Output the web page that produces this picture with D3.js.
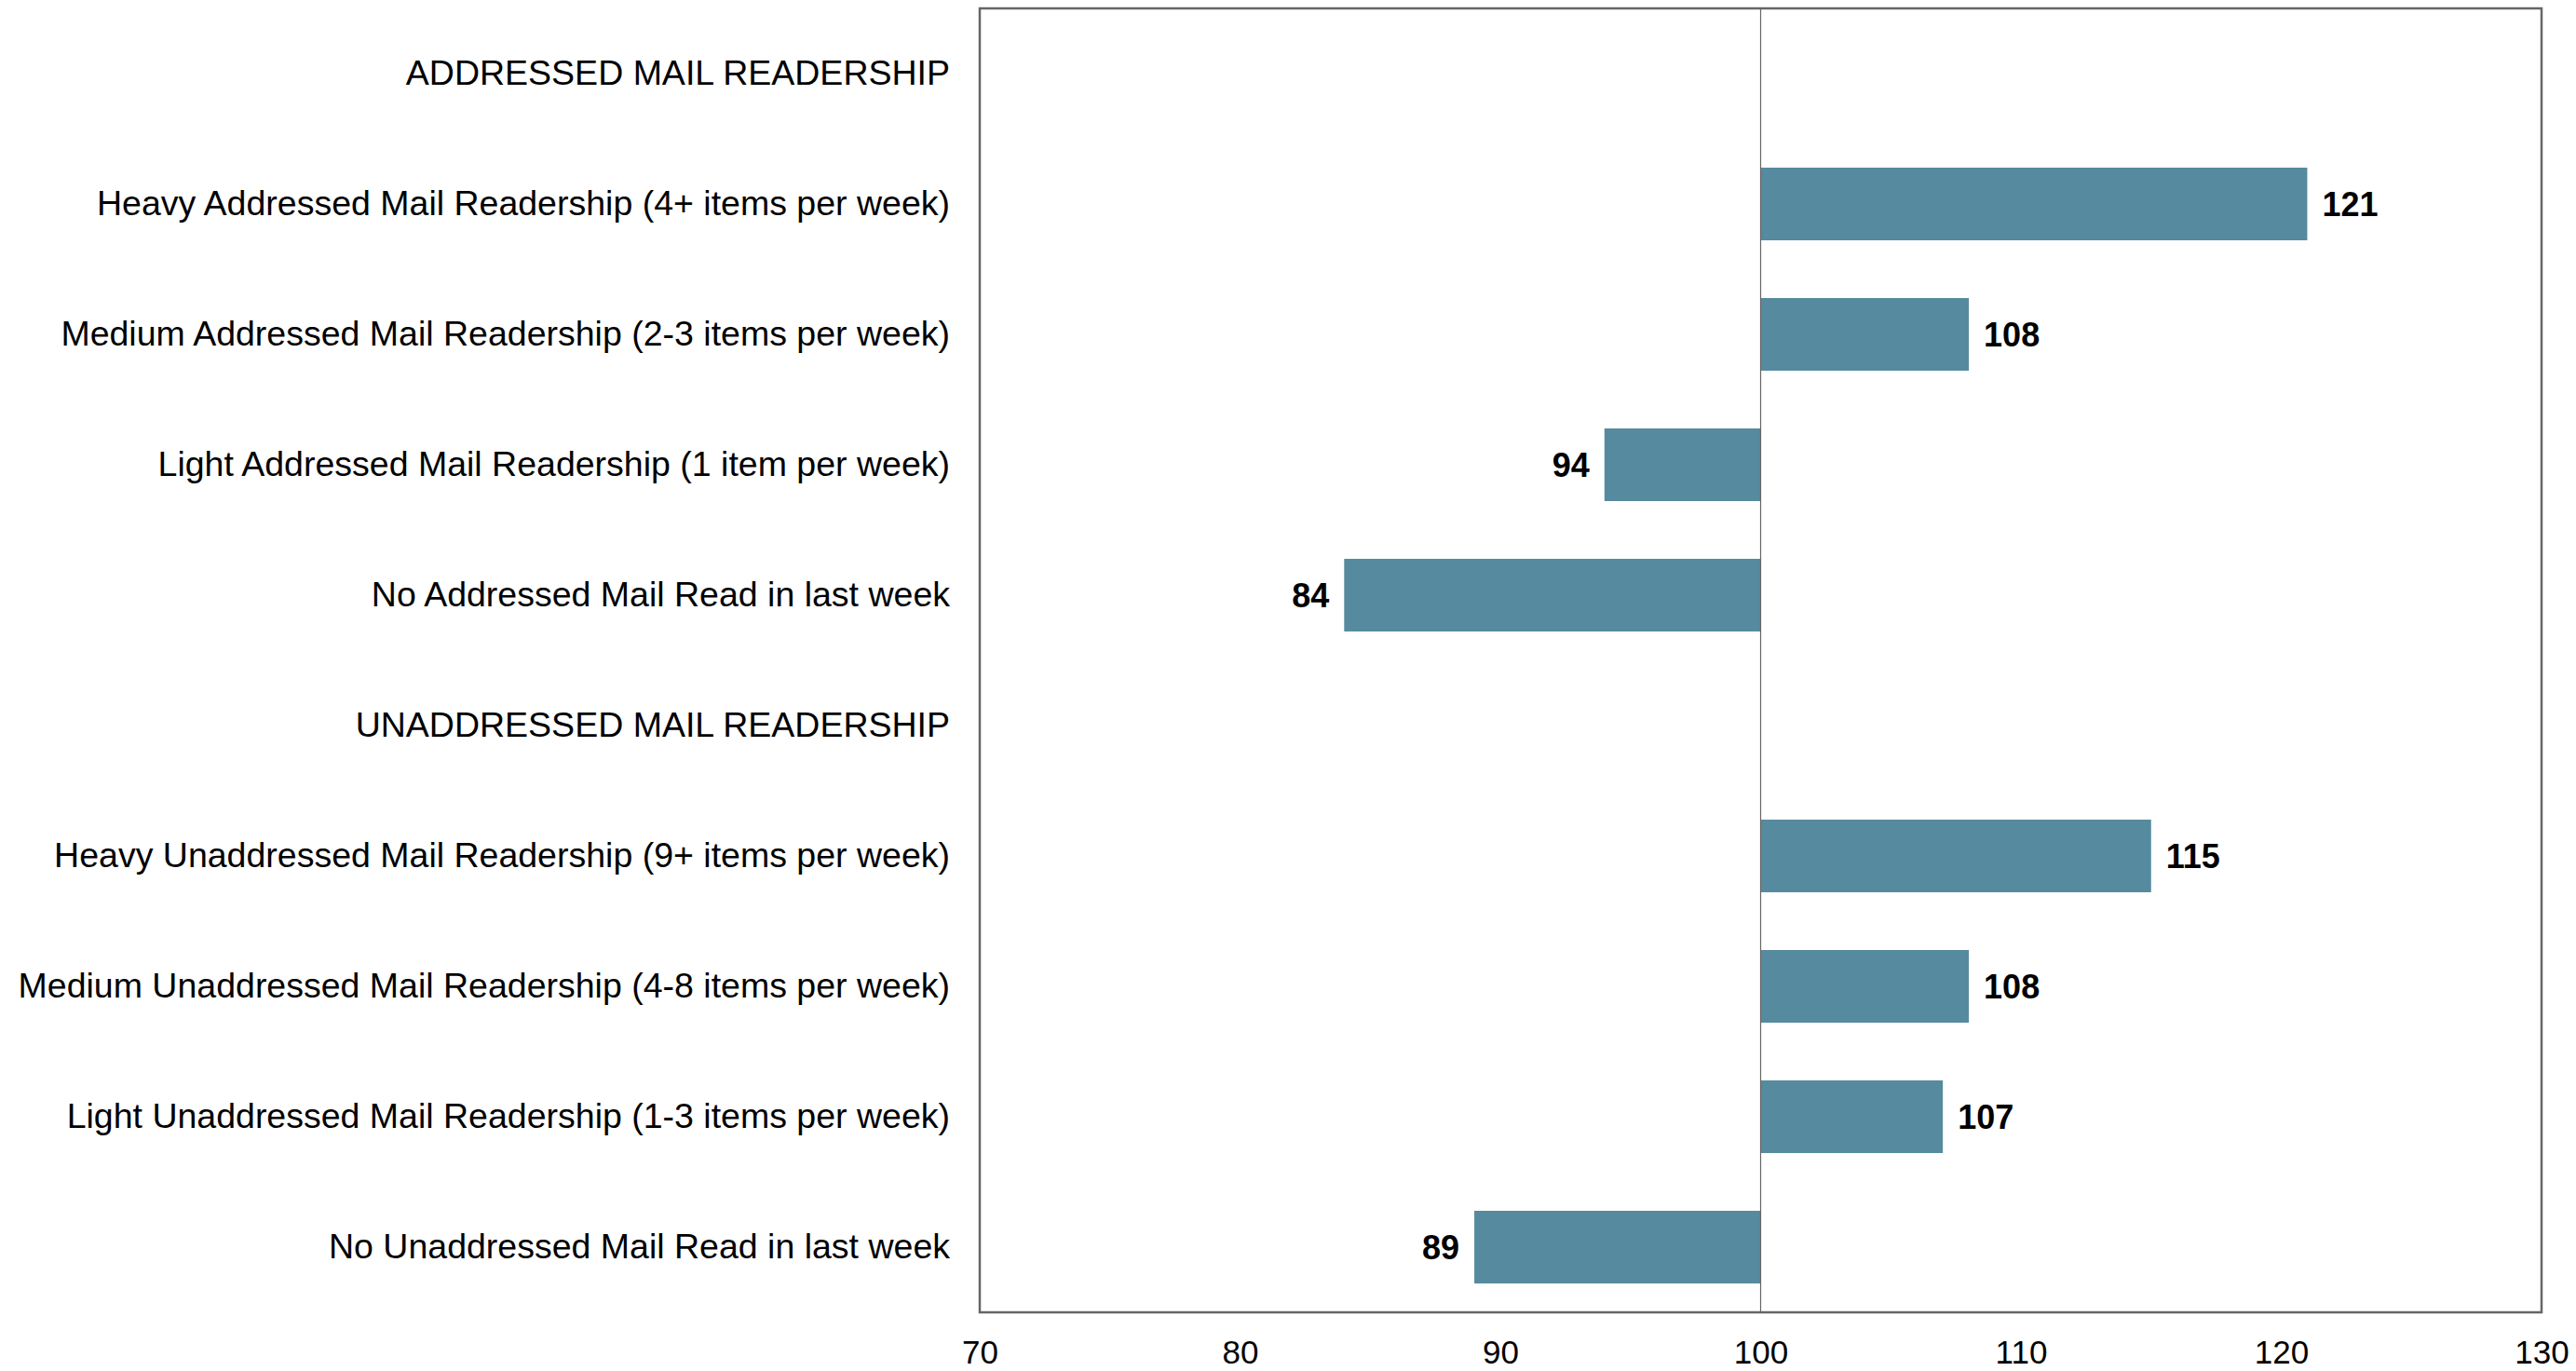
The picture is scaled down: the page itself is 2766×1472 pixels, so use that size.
<!DOCTYPE html>
<html><head><meta charset="utf-8">
<script src="https://cdn.jsdelivr.net/npm/d3@7"></script>
<style>body{margin:0;background:#fff;}svg{display:block;}</style>
</head><body>
<script>
const categories = [
  "ADDRESSED MAIL READERSHIP",
  "Heavy Addressed Mail Readership (4+ items per week)",
  "Medium Addressed Mail Readership (2-3 items per week)",
  "Light Addressed Mail Readership (1 item per week)",
  "No Addressed Mail Read in last week",
  "UNADDRESSED MAIL READERSHIP",
  "Heavy Unaddressed Mail Readership (9+ items per week)",
  "Medium Unaddressed Mail Readership (4-8 items per week)",
  "Light Unaddressed Mail Readership (1-3 items per week)",
  "No Unaddressed Mail Read in last week"
];
const values = [null, 121, 108, 94, 84, null, 115, 108, 107, 89];
const baseline = 100;
const xTicks = [70, 80, 90, 100, 110, 120, 130];

const W = 2766, H = 1472;
const m = {left: 1052, right: W - 2729, top: 9, bottom: H - 1409};
const svg = d3.select("body").append("svg").attr("width", W).attr("height", H);

const x = d3.scaleLinear().domain([70, 130]).range([m.left, W - m.right]);
const y = d3.scaleBand().domain(categories).range([m.top, H - m.bottom]).paddingInner(0.443).paddingOuter(0.2215);

const font = "Liberation Sans, Arial, sans-serif";

// bars
const data = categories.map((c, i) => ({c, v: values[i]})).filter(d => d.v != null);
svg.append("g").selectAll("rect").data(data).join("rect")
  .attr("x", d => x(Math.min(d.v, baseline)))
  .attr("width", d => Math.abs(x(d.v) - x(baseline)))
  .attr("y", d => y(d.c))
  .attr("height", y.bandwidth())
  .attr("fill", "#568a9f");

// baseline line
svg.append("line").attr("x1", x(baseline)).attr("x2", x(baseline))
  .attr("y1", m.top).attr("y2", H - m.bottom)
  .attr("stroke", "#666").attr("stroke-width", 1.2);

// value labels
svg.append("g").selectAll("text").data(data).join("text")
  .attr("x", d => d.v >= baseline ? x(d.v) + 16 : x(d.v) - 16)
  .attr("y", d => y(d.c) + y.bandwidth() / 2)
  .attr("dy", "0.35em")
  .attr("text-anchor", d => d.v >= baseline ? "start" : "end")
  .attr("font-family", font).attr("font-weight", "bold").attr("font-size", 36)
  .attr("fill", "#000")
  .text(d => d.v);

// plot frame
svg.append("rect").attr("x", m.left).attr("y", m.top)
  .attr("width", W - m.right - m.left).attr("height", H - m.bottom - m.top)
  .attr("fill", "none").attr("stroke", "#666").attr("stroke-width", 2.5);

// y axis labels
const yAxis = d3.axisLeft(y).tickSize(0).tickPadding(32);
const gy = svg.append("g").attr("transform", `translate(${m.left},0)`).call(yAxis);
gy.select(".domain").remove();
gy.selectAll("text").attr("font-family", font).attr("font-size", 37.5).attr("fill", "#000");

// x axis
const xAxis = d3.axisBottom(x).tickValues(xTicks).tickSize(0).tickPadding(30).tickFormat(d3.format("d"));
const gx = svg.append("g").attr("transform", `translate(0,${H - m.bottom})`).call(xAxis);
gx.select(".domain").remove();
gx.selectAll("text").attr("font-family", font).attr("font-size", 35).attr("fill", "#000");
</script>
</body></html>
